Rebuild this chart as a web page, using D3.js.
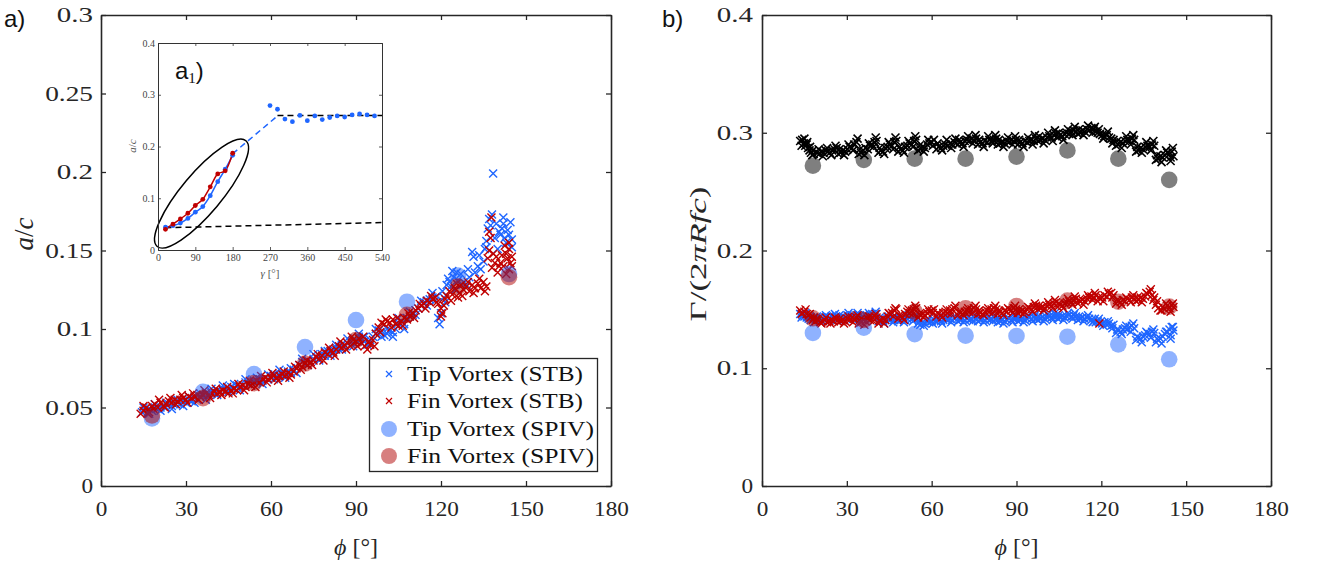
<!DOCTYPE html>
<html><head><meta charset="utf-8">
<script src="https://cdn.jsdelivr.net/npm/d3@7"></script>
<style>body{margin:0;background:#fff;} svg{display:block;}</style>
</head><body><svg id="c" width="1319" height="568"></svg>
<script>
// ---------- DATA ----------
const phiTicks = [0,30,60,90,120,150,180];
const phiTickLabels = ["0","30","60","90","120","150","180"];
const acTicks = [0,0.05,0.1,0.15,0.2,0.25,0.3];
const acTickLabels = ["0","0.05","0.1","0.15","0.2","0.25","0.3"];
const gTicks = [0,0.1,0.2,0.3,0.4];
const gTickLabels = ["0","0.1","0.2","0.3","0.4"];
const gammaTicks = [0,90,180,270,360,450,540];
const insetYTicks = [0,0.1,0.2,0.3,0.4];
const insetYTickLabels = ["0","0.1","0.2","0.3","0.4"];
const legendLabels = ["Tip Vortex (STB)","Fin Vortex (STB)","Tip Vortex (SPIV)","Fin Vortex (SPIV)"];

// panel a: STB (phi, a/c)
const tipSTB_a = [[14.5,.047],[15.5,.048],[16.5,.047],[17,.049],[18,.048],[19,.050],[20,.049],[21,.050],[22,.051],[23,.050],[24,.052],[25,.051],[26,.052],[27,.053],[28,.052],[29,.054],[30,.053],[31,.055],[32,.054],[33,.056],[34,.055],[35,.057],[36,.058],[37,.057],[38,.059],[39,.060],[40,.059],[41,.061],[42,.060],[43,.062],[44,.061],[45,.062],[46,.063],[47,.062],[48,.064],[49,.063],[50,.064],[51,.066],[52,.065],[53,.066],[54,.067],[55,.066],[56,.068],[57,.067],[58,.069],[59,.068],[60,.070],[61,.071],[62,.070],[63,.071],[64,.072],[65,.071],[66,.073],[67,.072],[68,.074],[69,.075],[70,.077],[71,.079],[72,.078],[73,.080],[74,.079],[75,.081],[76,.082],[77,.083],[78,.084],[79,.083],[80,.086],[81,.085],[82,.087],[83,.088],[84,.087],[85,.090],[86,.089],[87,.091],[88,.092],[89,.091],[90,.093],[91,.095],[92,.094],[93,.092],[94,.090],[95,.093],[96,.095],[97,.097],[98,.099],[99,.098],[100,.096],[101,.097],[102,.099],[103,.098],[104,.100],[105,.104],[106,.105],[107,.103],[108,.107],[109,.108],[110,.109],[111,.112],[112,.113],[113,.115],[114,.117],[115,.118],[116,.119],[117,.120],[118,.118],[119,.107],[119.5,.103],[120,.110],[121,.120],[122,.128],[122.5,.132],[123,.130],[124,.137],[124.5,.133],[125,.125],[126,.131],[127,.135],[128,.130],[129,.128],[130,.133],[131,.149],[131.5,.146],[132,.136],[133,.140],[134,.138],[135,.143],[135.5,.151],[136,.156],[136.5,.164],[137,.170],[137.5,.166],[138,.173],[138.4,.199],[139,.158],[140,.151],[141,.160],[141.5,.164],[142,.167],[142.5,.158],[143,.155],[143.5,.163],[144,.160],[144.5,.168],[145,.157],[145,.152]];
const tipSTB_a2 = [[15,.050],[17,.046],[19,.052],[21,.048],[23,.053],[25,.049],[27,.055],[29,.051],[31,.057],[33,.053],[35,.059],[37,.055],[39,.062],[41,.058],[43,.064],[45,.060],[47,.065],[49,.061],[51,.068],[53,.064],[55,.069],[57,.065],[59,.071],[61,.068],[63,.074],[65,.069],[67,.075],[69,.072],[71,.081],[73,.077],[75,.084],[77,.080],[79,.086],[81,.083],[83,.090],[85,.087],[87,.094],[89,.089],[91,.097],[93,.095],[95,.091],[97,.100],[99,.095],[101,.100],[103,.095],[105,.107],[107,.100],[109,.111],[111,.109],[113,.118],[115,.115],[117,.123],[118.5,.121],[120.5,.124],[121.5,.117],[123.5,.127],[125.5,.136],[127.5,.128],[129.5,.138],[133.5,.147],[136,.152],[139.5,.167],[140.5,.162],[142,.171]];
const finSTB_a = [[14,.046],[15,.048],[16,.050],[17,.047],[18,.051],[19,.052],[20,.050],[21,.053],[22,.051],[23,.052],[24,.054],[25,.053],[26,.055],[27,.054],[28,.055],[29,.056],[30,.055],[31,.057],[32,.056],[33,.057],[34,.058],[35,.057],[36,.058],[37,.059],[38,.058],[39,.059],[40,.060],[41,.059],[42,.060],[43,.061],[44,.060],[45,.059],[46,.061],[47,.062],[48,.061],[49,.063],[50,.064],[51,.063],[52,.065],[53,.064],[54,.066],[55,.067],[56,.066],[57,.068],[58,.069],[59,.068],[60,.069],[61,.070],[62,.069],[63,.070],[64,.071],[65,.070],[66,.072],[67,.071],[68,.073],[69,.075],[70,.077],[71,.076],[72,.078],[73,.077],[74,.079],[75,.080],[76,.082],[77,.081],[78,.083],[79,.085],[80,.084],[81,.086],[82,.085],[83,.087],[84,.089],[85,.088],[86,.090],[87,.091],[88,.089],[89,.093],[90,.092],[91,.094],[92,.091],[93,.089],[94,.087],[95,.090],[96,.093],[97,.097],[98,.101],[99,.104],[100,.103],[101,.105],[102,.104],[103,.106],[104,.103],[105,.102],[106,.105],[107,.107],[108,.106],[109,.108],[110,.110],[111,.112],[112,.113],[113,.115],[114,.116],[115,.118],[116,.117],[117,.119],[118,.120],[119,.116],[120,.113],[120.5,.110],[121,.115],[122,.121],[123,.124],[124,.122],[125,.126],[126,.120],[126.5,.123],[127,.128],[128,.125],[129,.127],[130,.124],[131,.128],[132,.126],[133,.129],[134,.126],[135,.130],[136,.127],[136.5,.145],[137,.150],[137.5,.158],[137.8,.171],[138,.139],[139,.142],[139.5,.146],[140,.136],[141,.142],[142,.140],[143,.148],[143.5,.145],[144,.151],[144.5,.142],[145,.146],[144,.138]];
const finSTB_a2 = [[15,.051],[16.5,.046],[18.5,.049],[20.5,.055],[22.5,.050],[24.5,.056],[26.5,.052],[28.5,.058],[30.5,.053],[32.5,.059],[34.5,.055],[36.5,.061],[38.5,.056],[40.5,.062],[42.5,.058],[44.5,.063],[46.5,.059],[48.5,.065],[50.5,.061],[52.5,.067],[54.5,.063],[56.5,.070],[58.5,.066],[60.5,.072],[62.5,.067],[64.5,.073],[66.5,.069],[68.5,.076],[70.5,.074],[72.5,.080],[74.5,.077],[76.5,.084],[78.5,.080],[80.5,.088],[82.5,.083],[84.5,.092],[86.5,.087],[88.5,.095],[90.5,.089],[92.5,.095],[94.5,.092],[96.5,.089],[98.5,.098],[100.5,.106],[102.5,.101],[104.5,.107],[106.5,.102],[108.5,.110],[110.5,.107],[112.5,.116],[114.5,.113],[116.5,.121],[118.5,.117],[120,.108],[121.5,.119],[123.5,.118],[125.5,.129],[127.5,.121],[129.5,.130],[131.5,.123],[133.5,.132],[135.5,.124],[137,.162],[138.5,.148],[140.5,.140],[141.5,.147],[142.5,.153],[143,.135],[145,.140],[144,.155]];

// SPIV (phi)
const spivPhi = [18,36,54,72,90,108,126,144];
const tipSPIV_a = [0.043,0.060,0.0713,0.0885,0.1057,0.1174,0.134,0.135];
const finSPIV_a = [0.045,0.056,0.0655,0.078,0.093,0.109,0.127,0.133];
const tipSPIV_b = [0.130,0.1345,0.129,0.1277,0.1274,0.1268,0.1203,0.1076];
const finSPIV_b = [0.1424,0.141,0.148,0.151,0.1529,0.1574,0.1565,0.1523];
const totSPIV_b = [0.272,0.277,0.278,0.278,0.2797,0.285,0.278,0.260];

// panel b: STB (phi, Gamma/(2 pi R f c))
const totSTB_b = [[13.5,.293],[14.2,.294],[14.8,.291],[15.3,.289],[15.8,.290],[16.3,.287],[16.8,.285],[17.3,.283],[17.8,.281],[18.3,.282],
[19.5,.283],[20.3,.282],[21,.284],[21.8,.283],[22.5,.285],[23.2,.284],[24,.283],[24.8,.285],[25.6,.286],[26.4,.287],
[27,.282],[27.8,.283],[28.6,.285],[29.4,.284],[30.2,.286],[31,.288],[31.8,.287],[32.6,.290],[33.4,.292],
[34.2,.282],[35,.283],[35.8,.285],[36.6,.287],[37.4,.286],[38.2,.289],[39,.290],[39.8,.292],[40.5,.293],
[41.2,.283],[42,.285],[42.8,.284],[43.6,.287],[44.4,.288],[45.2,.290],[46,.289],[46.8,.292],[47.5,.293],
[48.2,.284],[49,.286],[49.8,.285],[50.6,.288],[51.4,.289],[52.2,.291],[53,.290],[53.8,.293],[54.5,.294],
[55.2,.285],[56,.286],[56.8,.288],[57.6,.287],[58.4,.290],[59.2,.291],[60,.292],[60.8,.294],
[61.7,.286],[62.5,.288],[63.3,.287],[64.1,.289],[64.9,.290],[65.7,.289],[66.5,.291],[67.3,.290],[68.1,.292],
[69.3,.290],[70.1,.292],[70.9,.291],[71.7,.293],[72.5,.294],[73.3,.293],[74.1,.295],[74.9,.294],[75.7,.295],
[76.4,.290],[77.2,.292],[78,.291],[78.8,.293],[79.6,.292],[80.4,.294],[81.2,.293],[82,.294],[82.8,.295],
[83.4,.290],[84.2,.291],[85,.292],[85.8,.291],[86.6,.293],[87.4,.292],[88.2,.294],[89,.293],[89.8,.294],
[90.5,.290],[91.3,.292],[92.1,.291],[92.9,.293],[93.7,.292],[94.5,.293],[95.3,.294],[96.1,.293],[96.9,.295],
[97.6,.293],[98.4,.294],[99.2,.295],[100,.294],[100.8,.296],[101.6,.297],[102.4,.296],[103.2,.298],[104,.299],
[104.6,.296],[105.4,.298],[106.2,.297],[107,.299],[107.8,.300],[108.6,.299],[109.4,.301],[110.2,.302],[111,.301],
[111.7,.299],[112.5,.300],[113.3,.302],[114.1,.301],[114.9,.303],[115.7,.302],[116.5,.304],[117.3,.303],[118,.301],
[118.7,.300],[119.5,.299],[120.3,.298],[121.1,.297],[121.9,.298],[122.7,.296],[123.5,.295],[124.3,.294],
[125.2,.289],[126,.290],[126.8,.292],[127.6,.291],[128.4,.293],[129.2,.294],[130,.293],[130.8,.295],[131.6,.294],
[132.3,.284],[133.1,.285],[133.9,.287],[134.7,.286],[135.5,.288],[136.3,.289],[137.1,.288],[137.9,.290],[138.7,.289],
[139.3,.277],[140.1,.278],[140.9,.280],[141.7,.279],[142.5,.281],[143.3,.283],[144.1,.282],[144.9,.284],[145.5,.280],[144.5,.276]];
const totSTB_b2 = [[14,.289],[15,.295],[16,.292],[17,.288],[18,.285],
[20,.286],[21.5,.280],[23,.287],[24.5,.281],[26,.289],
[27.4,.286],[29,.281],[30.6,.290],[32.2,.285],[33.8,.295],
[34.6,.286],[36.2,.281],[37.8,.291],[39.4,.288],[40.2,.296],
[41.6,.287],[43.2,.282],[44.8,.292],[46.4,.286],[47.2,.296],
[48.6,.288],[50.2,.283],[51.8,.293],[53.4,.288],[54.2,.297],
[55.6,.289],[57.2,.284],[58.8,.294],[60.4,.289],
[62.1,.291],[63.7,.285],[65.3,.294],[66.9,.287],[68.4,.295],
[69.7,.294],[71.3,.288],[72.9,.297],[74.5,.291],[75.5,.298],
[76.8,.294],[78.4,.288],[80,.297],[81.6,.291],[82.5,.298],
[83.8,.294],[85.4,.288],[87,.296],[88.6,.290],[89.5,.297],
[90.9,.294],[92.5,.288],[94.1,.296],[95.7,.290],[96.5,.298],
[98,.297],[99.6,.291],[101.2,.300],[102.8,.293],[103.6,.302],
[105,.300],[106.6,.294],[108.2,.303],[109.8,.298],[110.6,.305],
[112.1,.303],[113.7,.298],[115.3,.306],[116.9,.300],[117.7,.305],
[119.1,.303],[120.7,.295],[122.3,.301],[123.9,.291],
[125.6,.293],[127.2,.287],[128.8,.297],[130.4,.290],[131.3,.298],
[132.7,.288],[134.3,.283],[135.9,.292],[137.5,.285],[138.4,.293],
[139.7,.281],[141.3,.275],[142.9,.285],[144.5,.279],[145.3,.287]];
const tipSTB_b = [[13.5,.146],[14.3,.145],[15,.144],[15.8,.143],[16.5,.142],[17.2,.141],[18,.142],
[19,.141],[19.8,.142],[20.6,.143],[21.4,.142],[22.2,.143],[23,.144],[23.8,.143],[24.6,.144],[25.4,.143],[26.2,.144],
[27,.142],[27.8,.143],[28.6,.144],[29.4,.143],[30.2,.145],[31,.144],[31.8,.145],[32.6,.144],[33.4,.145],
[34.2,.142],[35,.143],[35.8,.144],[36.6,.145],[37.4,.144],[38.2,.145],[39,.146],[39.8,.145],[40.5,.146],
[41.2,.140],[42,.141],[42.8,.140],[43.6,.141],[44.4,.142],[45.2,.141],[46,.142],[46.8,.141],[47.5,.142],
[48.2,.140],[49,.141],[49.8,.142],[50.6,.141],[51.4,.142],[52.2,.143],[53,.142],[53.8,.143],[54.5,.142],
[55.2,.138],[56,.137],[56.8,.139],[57.6,.138],[58.4,.140],[59.2,.139],[60,.140],[60.8,.141],
[61.7,.140],[62.5,.141],[63.3,.140],[64.1,.141],[64.9,.142],[65.7,.141],[66.5,.142],[67.3,.141],[68.1,.142],
[69.3,.140],[70.1,.141],[70.9,.142],[71.7,.141],[72.5,.142],[73.3,.141],[74.1,.142],[74.9,.143],[75.7,.142],
[76.4,.140],[77.2,.141],[78,.142],[78.8,.141],[79.6,.142],[80.4,.141],[81.2,.142],[82,.143],[82.8,.142],
[83.4,.139],[84.2,.140],[85,.141],[85.8,.140],[86.6,.141],[87.4,.142],[88.2,.141],[89,.142],[89.8,.143],
[90.5,.140],[91.3,.141],[92.1,.142],[92.9,.141],[93.7,.142],[94.5,.143],[95.3,.142],[96.1,.143],[96.9,.142],
[97.6,.141],[98.4,.142],[99.2,.143],[100,.142],[100.8,.143],[101.6,.144],[102.4,.143],[103.2,.144],[104,.145],
[104.6,.142],[105.4,.143],[106.2,.144],[107,.143],[107.8,.144],[108.6,.145],[109.4,.144],[110.2,.145],[111,.144],
[111.7,.141],[112.5,.142],[113.3,.143],[114.1,.142],[114.9,.143],[115.7,.142],[116.5,.141],[117.3,.140],[118,.139],
[118.7,.140],[119.5,.139],[120.3,.138],[121.1,.139],[121.9,.137],[122.7,.138],[123.5,.136],[124.3,.137],
[125.2,.130],[126,.132],[126.8,.131],[127.6,.133],[128.4,.134],[129.2,.133],[130,.135],[130.8,.136],[131.6,.134],
[132.3,.124],[133.1,.126],[133.9,.125],[134.7,.127],[135.5,.128],[136.3,.130],[137.1,.129],[137.9,.131],[138.7,.130],
[139.3,.122],[140.1,.124],[140.9,.125],[141.7,.127],[142.5,.129],[143.3,.131],[144.1,.133],[144.9,.135],[145.5,.132],[144.5,.128]];
const tipSTB_b2 = [[14,.143],[15.4,.147],[16.9,.144],[18.4,.139],
[19.4,.144],[21,.140],[22.6,.145],[24.2,.141],[25.8,.146],
[27.4,.145],[29,.141],[30.6,.147],[32.2,.142],[33.8,.147],
[34.6,.145],[36.2,.142],[37.8,.147],[39.4,.143],[40.2,.148],
[41.6,.143],[43.2,.138],[44.8,.144],[46.4,.139],[47.2,.144],
[48.6,.143],[50.2,.139],[51.8,.145],[53.4,.140],[54.2,.145],
[55.6,.140],[57.2,.136],[58.8,.142],[60.4,.138],
[62.1,.143],[63.7,.138],[65.3,.144],[66.9,.139],[68.4,.144],
[69.7,.143],[71.3,.139],[72.9,.144],[74.5,.140],[75.5,.145],
[76.8,.143],[78.4,.139],[80,.144],[81.6,.140],[82.5,.145],
[83.8,.142],[85.4,.138],[87,.143],[88.6,.139],[89.5,.145],
[90.9,.143],[92.5,.139],[94.1,.145],[95.7,.140],[96.5,.145],
[98,.144],[99.6,.140],[101.2,.146],[102.8,.141],[103.6,.147],
[105,.145],[106.6,.141],[108.2,.147],[109.8,.142],[110.6,.147],
[112.1,.144],[113.7,.140],[115.3,.145],[116.9,.139],[117.7,.142],
[119.1,.142],[120.7,.136],[122.3,.140],[123.9,.134],
[125.6,.133],[127.2,.129],[128.8,.136],[130.4,.131],[131.3,.138],
[132.7,.127],[134.3,.122],[135.9,.131],[137.5,.126],[138.4,.133],
[139.7,.125],[141.3,.121],[142.9,.131],[144.5,.125],[145.3,.135]];
const finSTB_b = [[13.5,.149],[14.3,.147],[15,.148],[15.8,.146],[16.5,.145],[17.2,.143],[18,.141],
[19,.140],[19.8,.141],[20.6,.139],[21.4,.140],[22.2,.141],[23,.139],[23.8,.140],[24.6,.141],[25.4,.140],[26.2,.142],
[27,.139],[27.8,.140],[28.6,.141],[29.4,.140],[30.2,.142],[31,.141],[31.8,.143],[32.6,.142],[33.4,.143],
[34.2,.138],[35,.139],[35.8,.141],[36.6,.140],[37.4,.142],[38.2,.141],[39,.143],[39.8,.144],[40.5,.143],
[41.2,.138],[42,.140],[42.8,.142],[43.6,.141],[44.4,.144],[45.2,.146],[46,.147],[46.8,.149],[47.5,.150],
[48.2,.142],[49,.144],[49.8,.143],[50.6,.146],[51.4,.148],[52.2,.147],[53,.149],[53.8,.150],[54.5,.151],
[55.2,.143],[56,.145],[56.8,.146],[57.6,.145],[58.4,.147],[59.2,.148],[60,.149],[60.8,.150],
[61.7,.144],[62.5,.146],[63.3,.145],[64.1,.147],[64.9,.148],[65.7,.147],[66.5,.149],[67.3,.150],[68.1,.151],
[69.3,.145],[70.1,.147],[70.9,.146],[71.7,.148],[72.5,.149],[73.3,.148],[74.1,.150],[74.9,.151],[75.7,.150],
[76.4,.146],[77.2,.147],[78,.146],[78.8,.148],[79.6,.149],[80.4,.148],[81.2,.150],[82,.151],[82.8,.150],
[83.4,.146],[84.2,.148],[85,.147],[85.8,.149],[86.6,.148],[87.4,.150],[88.2,.149],[89,.151],[89.8,.150],
[90.5,.147],[91.3,.148],[92.1,.149],[92.9,.148],[93.7,.150],[94.5,.151],[95.3,.150],[96.1,.152],[96.9,.153],
[97.6,.150],[98.4,.151],[99.2,.152],[100,.151],[100.8,.153],[101.6,.154],[102.4,.153],[103.2,.155],[104,.156],
[104.6,.152],[105.4,.154],[106.2,.153],[107,.155],[107.8,.156],[108.6,.157],[109.4,.156],[110.2,.158],[111,.159],
[111.7,.155],[112.5,.157],[113.3,.158],[114.1,.157],[114.9,.159],[115.7,.160],[116.5,.161],[117.3,.160],[118,.162],
[118.7,.157],[119.3,.138],[119.5,.159],[120.3,.160],[121.1,.162],[121.9,.161],[122.7,.163],[123.5,.164],[124.3,.162],
[125.2,.155],[126,.157],[126.8,.156],[127.6,.158],[128.4,.157],[129.2,.159],[130,.158],[130.8,.160],[131.6,.159],
[132.3,.157],[133.1,.158],[133.9,.160],[134.7,.159],[135.5,.161],[136.3,.163],[137.1,.165],[137.9,.162],[138.7,.160],
[139.3,.154],[140.1,.151],[140.9,.149],[141.7,.152],[142.5,.150],[143.3,.153],[144.1,.151],[144.9,.154],[145.5,.152]];
const finSTB_b2 = [[14,.146],[15.4,.150],[16.9,.146],[18.4,.143],
[19.4,.142],[21,.138],[22.6,.143],[24.2,.138],[25.8,.143],
[27.4,.142],[29,.138],[30.6,.144],[32.2,.139],[33.8,.145],
[34.6,.141],[36.2,.137],[37.8,.144],[39.4,.140],[40.2,.146],
[41.6,.141],[43.2,.138],[44.8,.147],[46.4,.144],[47.2,.151],
[48.6,.145],[50.2,.141],[51.8,.150],[53.4,.146],[54.2,.153],
[55.6,.146],[57.2,.143],[58.8,.150],[60.4,.147],
[62.1,.147],[63.7,.143],[65.3,.150],[66.9,.146],[68.4,.153],
[69.7,.148],[71.3,.145],[72.9,.151],[74.5,.147],[75.5,.153],
[76.8,.149],[78.4,.145],[80,.151],[81.6,.147],[82.5,.153],
[83.8,.149],[85.4,.145],[87,.151],[88.6,.147],[89.5,.153],
[90.9,.150],[92.5,.146],[94.1,.152],[95.7,.148],[96.5,.155],
[98,.153],[99.6,.149],[101.2,.156],[102.8,.151],[103.6,.158],
[105,.155],[106.6,.151],[108.2,.159],[109.8,.154],[110.6,.161],
[112.1,.158],[113.7,.154],[115.3,.162],[116.9,.158],[117.7,.164],
[119.1,.160],[120.7,.157],[122.3,.165],[123.9,.160],
[125.6,.158],[127.2,.154],[128.8,.160],[130.4,.156],[131.3,.162],
[132.7,.160],[134.3,.156],[135.9,.164],[137.5,.167],[138.4,.158],
[139.7,.157],[141.3,.149],[142.9,.155],[144.5,.148],[145.3,.155]];

// inset a1: gamma vs a/c
const insetGamma = [18,36,54,72,90,108,126,144,162,180];
const insetTipAC = [0.044,0.047,0.052,0.061,0.073,0.084,0.105,0.132,0.156,0.183];
const insetFinAC = [0.040,0.050,0.060,0.071,0.086,0.098,0.122,0.147,0.153,0.187];
const insetFarGamma = [270,288,306,324,342,360,378,396,414,432,450,468,486,504,522];
const insetFarAC = [0.279,0.272,0.253,0.248,0.260,0.250,0.259,0.252,0.256,0.259,0.257,0.261,0.263,0.261,0.259];
const insetTrendGamma = [180,285];
const insetTrendAC = [0.186,0.257];
const insetPlateauGamma = [288,540];
const insetPlateauAC = [0.260,0.260];
const insetBaseGamma = [18,540];
const insetBaseAC = [0.043,0.053];
const ellipseCenter = [105,0.109];

// ---------- STYLE ----------
const C_TIP = "#1f66ff", C_FIN = "#c00000", C_TOT = "#000000";
const AX = "#262626";
const SERIF = "'Liberation Serif','Times New Roman',serif";
const SANS = "'Liberation Sans',Arial,sans-serif";

const svg = d3.select("#c");
svg.append("rect").attr("width",1319).attr("height",568).attr("fill","#fff");

function tlen(s){ let n=0; for(const ch of s){ n += (ch==='.')?13:11.6; } return n; }
const crossPath = "M-4,-4L4,4M-4,4L4,-4";

function frame(g, x, y, xt, xl, yt, yl, o){
  const ts = o.tick, fs = o.fs;
  const bx = g.append("g").attr("transform",`translate(0,${y.range()[0]})`)
    .call(d3.axisBottom(x).tickValues(xt).tickFormat((d,i)=>xl[i]).tickSizeInner(-ts).tickSizeOuter(0).tickPadding(o.padX));
  const tx = g.append("g").attr("transform",`translate(0,${y.range()[1]})`)
    .call(d3.axisTop(x).tickValues(xt).tickFormat("").tickSizeInner(-ts).tickSizeOuter(0));
  const ly = g.append("g").attr("transform",`translate(${x.range()[0]},0)`)
    .call(d3.axisLeft(y).tickValues(yt).tickFormat((d,i)=>yl[i]).tickSizeInner(-ts).tickSizeOuter(0).tickPadding(o.padY));
  const ry = g.append("g").attr("transform",`translate(${x.range()[1]},0)`)
    .call(d3.axisRight(y).tickValues(yt).tickFormat("").tickSizeInner(-ts).tickSizeOuter(0));
  [bx,tx,ly,ry].forEach(a=>{
    a.attr("font-family",SERIF).attr("font-size",fs);
    a.select(".domain").attr("stroke",o.col).attr("stroke-width",o.sw);
    a.selectAll(".tick line").attr("stroke",o.col).attr("stroke-width",o.sw*0.8);
    a.selectAll(".tick text").attr("fill",o.tcol);
  });
  if(o.stretch){
    [bx,ly].forEach(a=>a.selectAll(".tick text").each(function(){
      d3.select(this).attr("textLength",tlen(this.textContent)).attr("lengthAdjust","spacingAndGlyphs");
    }));
  }
}

// scales
const xa = d3.scaleLinear([0,180],[101,611]);
const ya = d3.scaleLinear([0,0.3],[486,15]);
const xb = d3.scaleLinear([0,180],[762,1271]);
const yb = d3.scaleLinear([0,0.4],[486,15]);
const xi = d3.scaleLinear([0,540],[158,382]);
const yi = d3.scaleLinear([0,0.4],[250,43]);

function crosses(g, data, x, y, col, sw){
  g.append("g").selectAll("path").data(data).join("path")
    .attr("d",crossPath).attr("transform",d=>`translate(${x(d[0])},${y(d[1])})`)
    .attr("fill","none").attr("stroke",col).attr("stroke-width",sw);
}
function circles(g, xs, vs, x, y, col, op){
  g.append("g").selectAll("circle").data(xs.map((p,i)=>[p,vs[i]])).join("circle")
    .attr("cx",d=>x(d[0])).attr("cy",d=>y(d[1])).attr("r",8.3)
    .attr("fill",col).attr("fill-opacity",op);
}

// ---------- PANEL A ----------
const ga = svg.append("g");
crosses(ga, tipSTB_a.concat(tipSTB_a2), xa, ya, C_TIP, 1.4);
crosses(ga, finSTB_a.concat(finSTB_a2), xa, ya, C_FIN, 1.4);
circles(ga, spivPhi, tipSPIV_a, xa, ya, C_TIP, 0.5);
circles(ga, spivPhi, finSPIV_a, xa, ya, "#b00000", 0.5);
frame(ga, xa, ya, phiTicks, phiTickLabels, acTicks, acTickLabels, {tick:5, fs:21, padX:15, padY:8, col:AX, tcol:AX, sw:1.6, stretch:true});

// axis labels a
ga.append("text").attr("transform","translate(33,234) rotate(-90)").attr("text-anchor","middle")
  .attr("font-family",SERIF).attr("font-size",27).attr("fill",AX)
  .html('<tspan font-style="italic">a</tspan>/<tspan font-style="italic">c</tspan>');
ga.append("text").attr("x",(xa.range()[0]+xa.range()[1])/2).attr("y",555).attr("text-anchor","middle")
  .attr("font-family",SERIF).attr("font-size",24).attr("fill",AX)
  .html('<tspan font-style="italic">ϕ</tspan> [°]');
svg.append("text").attr("x",4).attr("y",27).attr("font-family",SANS).attr("font-size",24).attr("fill","#111").text("a)");

// legend
const lg = ga.append("g");
lg.append("rect").attr("x",369.5).attr("y",358.5).attr("width",228).attr("height",113)
  .attr("fill","#fff").attr("stroke",AX).attr("stroke-width",1.3);
const rowY = [374,401,429,456];
legendLabels.forEach((lab,i)=>{
  if(i<2){
    lg.append("path").attr("d","M-3,-3L3,3M-3,3L3,-3").attr("transform",`translate(389,${rowY[i]})`)
      .attr("stroke",i===0?C_TIP:C_FIN).attr("stroke-width",1.2).attr("fill","none");
  } else {
    lg.append("circle").attr("cx",389).attr("cy",rowY[i]).attr("r",8)
      .attr("fill",i===2?C_TIP:"#b00000").attr("fill-opacity",0.5);
  }
  lg.append("text").attr("x",407).attr("y",rowY[i]+7).attr("font-family",SERIF).attr("font-size",21).attr("fill","#111")
    .attr("textLength",lab.length*11.0).attr("lengthAdjust","spacingAndGlyphs").text(lab);
});

// ---------- INSET ----------
const gi = svg.append("g");
gi.append("rect").attr("x",158).attr("y",43).attr("width",224).attr("height",207).attr("fill","#fff");
const line = d3.line().x(d=>xi(d[0])).y(d=>yi(d[1]));
const lineSmooth = d3.line().x(d=>xi(d[0])).y(d=>yi(d[1])).curve(d3.curveMonotoneX);
gi.append("path").attr("d",line(insetBaseGamma.map((g,i)=>[g,insetBaseAC[i]])))
  .attr("stroke","#000").attr("stroke-width",1.5).attr("stroke-dasharray","6,4").attr("fill","none");
gi.append("path").attr("d",line(insetPlateauGamma.map((g,i)=>[g,insetPlateauAC[i]])))
  .attr("stroke","#000").attr("stroke-width",1.5).attr("stroke-dasharray","6,4").attr("fill","none");
gi.append("path").attr("d",line(insetTrendGamma.map((g,i)=>[g,insetTrendAC[i]])))
  .attr("stroke",C_TIP).attr("stroke-width",1.5).attr("stroke-dasharray","6,4").attr("fill","none");
gi.append("path").attr("d",lineSmooth(insetGamma.map((g,i)=>[g,insetTipAC[i]])))
  .attr("stroke",C_TIP).attr("stroke-width",1.5).attr("fill","none");
gi.append("path").attr("d",lineSmooth(insetGamma.map((g,i)=>[g,insetFinAC[i]])))
  .attr("stroke",C_FIN).attr("stroke-width",1.5).attr("fill","none");
gi.append("g").selectAll("circle").data(insetGamma.map((g,i)=>[g,insetTipAC[i]])).join("circle")
  .attr("cx",d=>xi(d[0])).attr("cy",d=>yi(d[1])).attr("r",2.4).attr("fill",C_TIP);
gi.append("g").selectAll("circle").data(insetGamma.map((g,i)=>[g,insetFinAC[i]])).join("circle")
  .attr("cx",d=>xi(d[0])).attr("cy",d=>yi(d[1])).attr("r",2.4).attr("fill",C_FIN);
gi.append("g").selectAll("circle").data(insetFarGamma.map((g,i)=>[g,insetFarAC[i]])).join("circle")
  .attr("cx",d=>xi(d[0])).attr("cy",d=>yi(d[1])).attr("r",2.4).attr("fill",C_TIP);
const ecx = xi(ellipseCenter[0]), ecy = yi(ellipseCenter[1]);
gi.append("ellipse").attr("cx",ecx).attr("cy",ecy).attr("rx",69).attr("ry",20)
  .attr("transform",`rotate(-50,${ecx},${ecy})`).attr("fill","none").attr("stroke","#000").attr("stroke-width",1.5);
frame(gi, xi, yi, gammaTicks, gammaTicks.map(String), insetYTicks, insetYTickLabels, {tick:3, fs:10, padX:4, padY:3, col:"#333", tcol:"#444", sw:1, stretch:false});
gi.append("text").attr("x",270).attr("y",277).attr("text-anchor","middle").attr("font-family",SERIF).attr("font-size",11).attr("fill","#555")
  .html('<tspan font-style="italic">γ</tspan> [°]');
gi.append("text").attr("transform","translate(136,146) rotate(-90)").attr("text-anchor","middle").attr("font-family",SERIF).attr("font-size",11).attr("fill","#555")
  .html('<tspan font-style="italic">a</tspan>/<tspan font-style="italic">c</tspan>');
gi.append("text").attr("x",175).attr("y",79).attr("font-family",SANS).attr("font-size",24).attr("fill","#111")
  .html('a<tspan font-family="Liberation Serif" font-size="15" dy="4">1</tspan><tspan dy="-4">)</tspan>');

// ---------- PANEL B ----------
const gb = svg.append("g");
crosses(gb, totSTB_b.concat(totSTB_b2), xb, yb, C_TOT, 1.6);
crosses(gb, tipSTB_b.concat(tipSTB_b2), xb, yb, C_TIP, 1.4);
crosses(gb, finSTB_b.concat(finSTB_b2), xb, yb, C_FIN, 1.4);
circles(gb, spivPhi, totSPIV_b, xb, yb, "#000", 0.5);
circles(gb, spivPhi, tipSPIV_b, xb, yb, C_TIP, 0.5);
circles(gb, spivPhi, finSPIV_b, xb, yb, "#b00000", 0.5);
frame(gb, xb, yb, phiTicks, phiTickLabels, gTicks, gTickLabels, {tick:5, fs:21, padX:15, padY:9, col:AX, tcol:AX, sw:1.6, stretch:true});
gb.append("text").attr("transform","translate(706,254) rotate(-90)").attr("text-anchor","middle")
  .attr("font-family",SERIF).attr("font-size",24).attr("fill",AX).attr("textLength",135).attr("lengthAdjust","spacingAndGlyphs")
  .html('Γ/(2<tspan font-style="italic">πRfc</tspan>)');
gb.append("text").attr("x",(xb.range()[0]+xb.range()[1])/2).attr("y",555).attr("text-anchor","middle")
  .attr("font-family",SERIF).attr("font-size",24).attr("fill",AX)
  .html('<tspan font-style="italic">ϕ</tspan> [°]');
svg.append("text").attr("x",662).attr("y",27).attr("font-family",SANS).attr("font-size",24).attr("fill","#111").text("b)");
</script></body></html>
